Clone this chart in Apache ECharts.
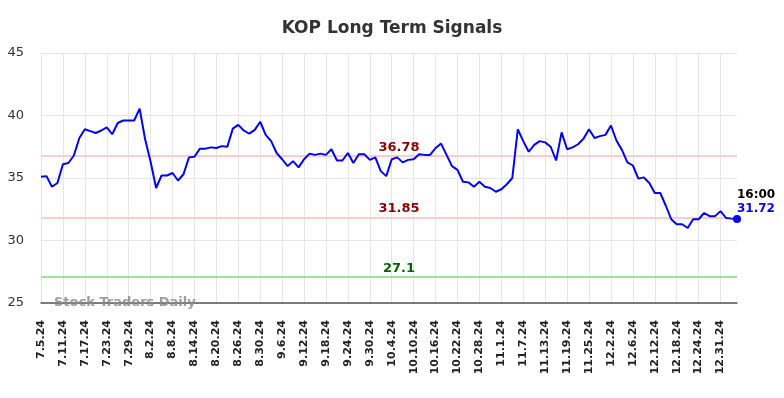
<!DOCTYPE html>
<html>
<head>
<meta charset="utf-8">
<title>KOP Long Term Signals</title>
<script src="https://cdn.jsdelivr.net/npm/echarts@6/dist/echarts.min.js"></script>
<style>
  html, body { margin: 0; padding: 0; background: #fff; }
  #chart { width: 784px; height: 398px; }
</style>
</head>
<body>
<div id="chart"></div>
<script>
// trading days, m.d.yy
const dates = [
  '7.5.24', '7.8.24', '7.9.24', '7.10.24', '7.11.24', '7.12.24', '7.15.24', '7.16.24', '7.17.24', '7.18.24',
  '7.19.24', '7.22.24', '7.23.24', '7.24.24', '7.25.24', '7.26.24', '7.29.24', '7.30.24', '7.31.24',
  '8.1.24', '8.2.24', '8.5.24', '8.6.24', '8.7.24', '8.8.24', '8.9.24', '8.12.24', '8.13.24', '8.14.24',
  '8.15.24', '8.16.24', '8.19.24', '8.20.24', '8.21.24', '8.22.24', '8.23.24', '8.26.24', '8.27.24',
  '8.28.24', '8.29.24', '8.30.24',
  '9.3.24', '9.4.24', '9.5.24', '9.6.24', '9.9.24', '9.10.24', '9.11.24', '9.12.24', '9.13.24', '9.16.24',
  '9.17.24', '9.18.24', '9.19.24', '9.20.24', '9.23.24', '9.24.24', '9.25.24', '9.26.24', '9.27.24', '9.30.24',
  '10.1.24', '10.2.24', '10.3.24', '10.4.24', '10.7.24', '10.8.24', '10.9.24', '10.10.24', '10.11.24',
  '10.14.24', '10.15.24', '10.16.24', '10.17.24', '10.18.24', '10.21.24', '10.22.24', '10.23.24',
  '10.24.24', '10.25.24', '10.28.24', '10.29.24', '10.30.24', '10.31.24',
  '11.1.24', '11.4.24', '11.5.24', '11.6.24', '11.7.24', '11.8.24', '11.11.24', '11.12.24', '11.13.24',
  '11.14.24', '11.15.24', '11.18.24', '11.19.24', '11.20.24', '11.21.24', '11.22.24', '11.25.24',
  '11.26.24', '11.27.24', '11.29.24',
  '12.2.24', '12.3.24', '12.4.24', '12.5.24', '12.6.24', '12.9.24', '12.10.24', '12.11.24', '12.12.24',
  '12.13.24', '12.16.24', '12.17.24', '12.18.24', '12.19.24', '12.20.24', '12.23.24', '12.24.24',
  '12.26.24', '12.27.24', '12.30.24', '12.31.24',
  '1.2.25', '1.3.25', '1.6.25'
]

// closing prices
const prices = [
  35.1, 35.15, 34.3, 34.6, 36.1, 36.2, 36.8, 38.2, 38.9, 38.75,
  38.6, 38.8, 39.05, 38.5, 39.4, 39.6, 39.6, 39.6, 40.55, 38.1,
  36.3, 34.2, 35.2, 35.2, 35.4, 34.8, 35.3, 36.65, 36.7, 37.35,
  37.35, 37.45, 37.4, 37.55, 37.5, 38.95, 39.25, 38.8, 38.55, 38.85,
  39.5, 38.45, 37.95, 37.0, 36.5, 35.95, 36.35, 35.85, 36.5, 36.95,
  36.85, 36.95, 36.85, 37.3, 36.4, 36.4, 37.0, 36.2, 36.9, 36.9,
  36.45, 36.65, 35.55, 35.15, 36.5, 36.65, 36.25, 36.45, 36.5, 36.9,
  36.85, 36.85, 37.4, 37.75, 36.85, 35.95, 35.65, 34.7, 34.65, 34.3,
  34.7, 34.3, 34.2, 33.9, 34.1, 34.5, 35.0, 38.9, 37.95, 37.1,
  37.65, 37.95, 37.85, 37.5, 36.4, 38.65, 37.3, 37.45, 37.7, 38.15,
  38.9, 38.2, 38.35, 38.45, 39.2, 38.0, 37.25, 36.25, 36.0, 34.95,
  35.05, 34.6, 33.8, 33.8, 32.8, 31.7, 31.3, 31.3, 31.0, 31.7,
  31.7, 32.2, 31.95, 31.95, 32.35, 31.8, 31.75, 31.72
]

// signal levels
const resistanceLevels = [36.78, 31.85]
const supportLevels = [27.1]

const yTicks = [25, 30, 35, 40, 45]
const lastTime = '16:00'

const fontFamily = 'DejaVu Sans'
const chart = echarts.init(document.getElementById('chart'))

const lastIdx = prices.length - 1
const lastVal = prices[lastIdx]

// 信号线
const levelLines = [
  ...resistanceLevels.map(v => ({
    yAxis: v,
    lineStyle: { color: '#ffcccc', width: 2, type: 'solid' },
    label: { color: '#8b0000' }
  })),
  ...supportLevels.map(v => ({
    yAxis: v,
    lineStyle: { color: '#99e699', width: 2, type: 'solid' },
    label: { color: '#006400' }
  }))
]

const option = {
  animation: false,
  title: {
    text: 'KOP Long Term Signals',
    left: 'center',
    top: 15,
    textStyle: { fontFamily, fontSize: 17, fontWeight: 'bold', color: '#333' }
  },
  grid: { left: 41, right: 47, top: 53, bottom: 95 },
  xAxis: {
    type: 'category',
    data: dates,
    boundaryGap: false,
    axisLine: { show: true, lineStyle: { color: '#555', width: 1.5 } },
    axisTick: { show: false },
    axisLabel: {
      interval: 3,
      rotate: 90,
      margin: 17,
      fontFamily,
      fontSize: 11,
      fontWeight: 'bold',
      color: '#222'
    },
    splitLine: { show: true, interval: 3, lineStyle: { color: '#e6e6e6', width: 1 } }
  },
  yAxis: {
    type: 'value',
    min: yTicks[0],
    max: yTicks[yTicks.length - 1],
    interval: 5,
    axisLine: { show: false },
    axisTick: { show: false },
    axisLabel: { margin: 17, fontFamily, fontSize: 13, color: '#333' },
    splitLine: { show: true, lineStyle: { color: '#e6e6e6', width: 1 } }
  },
  graphic: [
    {
      type: 'text',
      left: 54,
      top: 296,
      z: 100,
      style: {
        text: 'Stock Traders Daily',
        fontFamily,
        fontSize: 13,
        fontWeight: 'bold',
        fill: 'rgba(140,140,140,0.85)'
      }
    }
  ],
  series: [
    {
      type: 'line',
      data: prices,
      showSymbol: false,
      lineStyle: { color: '#0000ff', width: 2 },
      itemStyle: { color: '#0000ff' },
      z: 5,
      markLine: {
        silent: true,
        symbol: 'none',
        z: 2,
        label: {
          show: true,
          position: 'insideMiddleTop',
          distance: 2,
          offset: [10, 0],
          fontFamily,
          fontSize: 13,
          fontWeight: 'bold',
          formatter: p => String(p.value)
        },
        data: levelLines
      },
      markPoint: {
        silent: true,
        symbol: 'circle',
        symbolSize: 8,
        itemStyle: { color: '#0000ff' },
        label: {
          show: true,
          position: [4, -27],
          align: 'left',
          fontFamily,
          fontWeight: 'bold',
          fontSize: 13,
          lineHeight: 14,
          formatter: '{t|' + lastTime + '}\n{v|' + lastVal.toFixed(2) + '}',
          rich: {
            t: { color: '#000', fontFamily, fontWeight: 'bold', fontSize: 12, lineHeight: 14 },
            v: { color: '#0000ff', fontFamily, fontWeight: 'bold', fontSize: 12, lineHeight: 14 }
          }
        },
        data: [{ coord: [lastIdx, lastVal] }]
      }
    }
  ]
}

chart.setOption(option)
</script>
</body>
</html>
